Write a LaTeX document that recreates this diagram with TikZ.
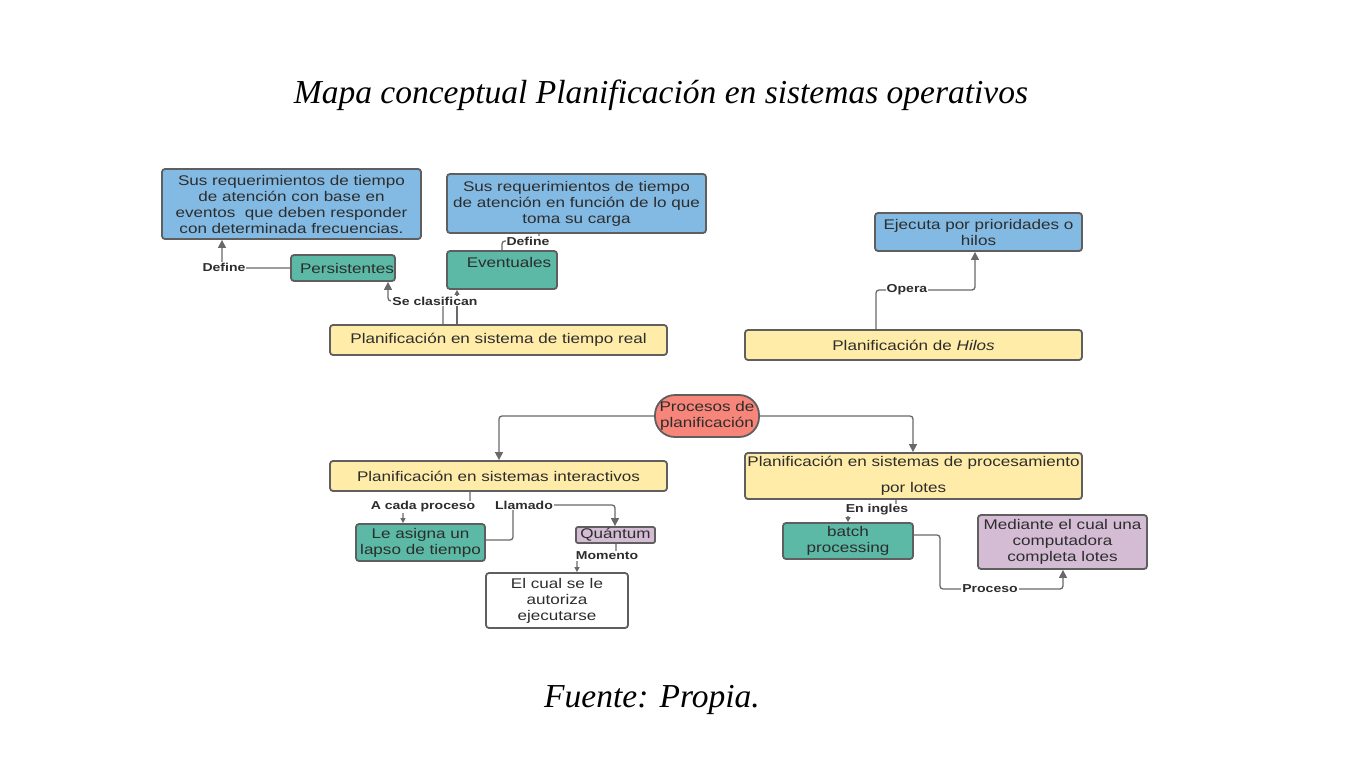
\documentclass[tikz,border=0pt]{standalone}
\usepackage{fontspec}
\setmainfont{Liberation Sans}[FakeStretch=1.22]
\newfontfamily\titlefont{Liberation Serif}
\usetikzlibrary{arrows.meta}
\definecolor{cblue}{RGB}{130,186,228}
\definecolor{cgreen}{RGB}{91,185,165}
\definecolor{cyellow}{RGB}{255,236,168}
\definecolor{cred}{RGB}{247,133,122}
\definecolor{cpurple}{RGB}{212,188,212}
\definecolor{cborder}{RGB}{95,95,95}
\definecolor{ctext}{RGB}{45,45,45}
\definecolor{cline}{RGB}{105,105,105}
\tikzset{
  box/.style={draw=cborder, line width=1.8pt, rounded corners=3pt, inner sep=0pt, align=center,
    text=ctext, font=\fontsize{14}{16}\selectfont},
  bluebox/.style={box, fill=cblue},
  greenbox/.style={box, fill=cgreen},
  yellowbox/.style={box, fill=cyellow},
  purplebox/.style={box, fill=cpurple},
  whitebox/.style={box, fill=white},
  redbox/.style={box, fill=cred, rounded corners=20pt},
  conn/.style={draw=cline, line width=1.3pt, rounded corners=3pt},
  arr/.style={conn, -{Triangle[length=8pt,width=8pt]}},
  sarr/.style={conn, -{Triangle[length=5pt,width=5pt]}},
  lbl/.style={fill=white, inner sep=1pt, text=ctext, font=\fontsize{11.5}{12}\selectfont\bfseries},
}
\begin{document}
\begin{tikzpicture}[x=1pt,y=-1pt]
\useasboundingbox (0,0) rectangle (1366,768);
\node[font=\titlefont\itshape\fontsize{33.5}{36}\selectfont, text=black] (title) at (661,95) {Mapa conceptual Planificación en sistemas operativos};
\node[font=\titlefont\itshape\fontsize{33.5}{36}\selectfont, text=black] (fuente) at (652,700) {Fuente: Propia.};

\node[bluebox, minimum width=259pt, minimum height=70pt] (blueA) at (291.5,204) {Sus requerimientos de tiempo\\de atención con base en\\eventos\ \ que deben responder\\con determinada frecuencias.};
\node[bluebox, minimum width=259pt, minimum height=59pt] (blueB) at (576.5,203.5) {Sus requerimientos de tiempo\\de atención en función de lo que\\toma su carga};
\node[greenbox, minimum width=104pt, minimum height=26pt] (pers) at (343,268) {\hspace*{8pt}Persistentes};
\node[greenbox, minimum width=110pt, minimum height=38pt] (event) at (502,270) {\hspace*{14pt}Eventuales\\\mbox{}};
\node[yellowbox, minimum width=337pt, minimum height=30pt] (treal) at (498.5,340) {Planificación en sistema de tiempo real};
\node[bluebox, minimum width=207pt, minimum height=38pt] (blueC) at (978.5,232) {Ejecuta por prioridades o\\hilos};
\node[yellowbox, minimum width=337pt, minimum height=30pt] (hilos) at (913.5,345) {Planificación de \textit{Hilos}};
\node[redbox, minimum width=104pt, minimum height=42pt] (proc) at (707,416) {Procesos de\\planificación};
\node[yellowbox, minimum width=337pt, minimum height=30pt] (inter) at (498.5,476) {Planificación en sistemas interactivos};
\node[yellowbox, minimum width=337pt, minimum height=46pt, font=\fontsize{14}{26}\selectfont] (lotes) at (913.5,476) {Planificación en sistemas de procesamiento\\por lotes};
\node[greenbox, minimum width=129pt, minimum height=37pt] (asigna) at (420.5,542.5) {Le asigna un\\lapso de tiempo};
\node[purplebox, minimum width=79pt, minimum height=16pt, rounded corners=2pt] (quantum) at (615.5,535) {Quántum};
\node[whitebox, minimum width=142pt, minimum height=55pt] (elcual) at (557,600.5) {El cual se le\\autoriza\\ejecutarse};
\node[greenbox, minimum width=130pt, minimum height=36pt] (batch) at (848,541) {batch\\processing};
\node[purplebox, minimum width=169pt, minimum height=54pt] (mediante) at (1062.5,542) {Mediante el cual una\\computadora\\completa lotes};

% connectors
\draw[arr] (pers.west) -- (222,268) -- (blueA.south -| 222,0);
\node[lbl] (l1) at (224,267) {Define};

\draw[sarr] (treal.north -| 457,0) -- (event.south -| 457,0);
\draw[arr] (treal.north -| 443,0) -- (443,301) -- (388,301) -- (pers.south -| 388,0);
\node[lbl] (l2) at (435,301) {Se clasifican};

\draw[conn] (event.north -| 502,0) -- (502,241) -- (539,241) -- (blueB.south -| 539,0);
\node[lbl] (l3) at (528,241) {Define};

\draw[arr] (hilos.north -| 876,0) -- (876,290) -- (975,290) -- (blueC.south -| 975,0);
\node[lbl] (l4) at (907,290) {Opera};

\draw[arr] (proc.west) -- (proc.west -| 499,0) -- (inter.north -| 499,0);
\draw[arr] (proc.east) -- (proc.east -| 913,0) -- (lotes.north -| 913,0);

\draw[sarr] (inter.south -| 470,0) -- (470,507) -- (403,507) -- (asigna.north -| 403,0);
\node[lbl] (l5) at (423,507) {A cada proceso};

\draw[arr] (asigna.east |- 0,540) -- (513,540) -- (513,505) -- (615,505) -- (quantum.north -| 615,0);
\node[lbl] (l6) at (524,505) {Llamado};

\draw[sarr] (quantum.south -| 616,0) -- (616,556) -- (577,556) -- (elcual.north -| 577,0);
\node[lbl] (l7) at (607,556) {Momento};

\draw[sarr] (lotes.south -| 896,0) -- (896,510) -- (848,510) -- (batch.north -| 848,0);
\node[lbl] (l8) at (877,510) {En ingles};

\draw[arr] (batch.east |- 0,535) -- (940,535) -- (940,589) -- (1063,589) -- (mediante.south -| 1063,0);
\node[lbl] (l9) at (990,589) {Proceso};
\end{tikzpicture}
\end{document}
